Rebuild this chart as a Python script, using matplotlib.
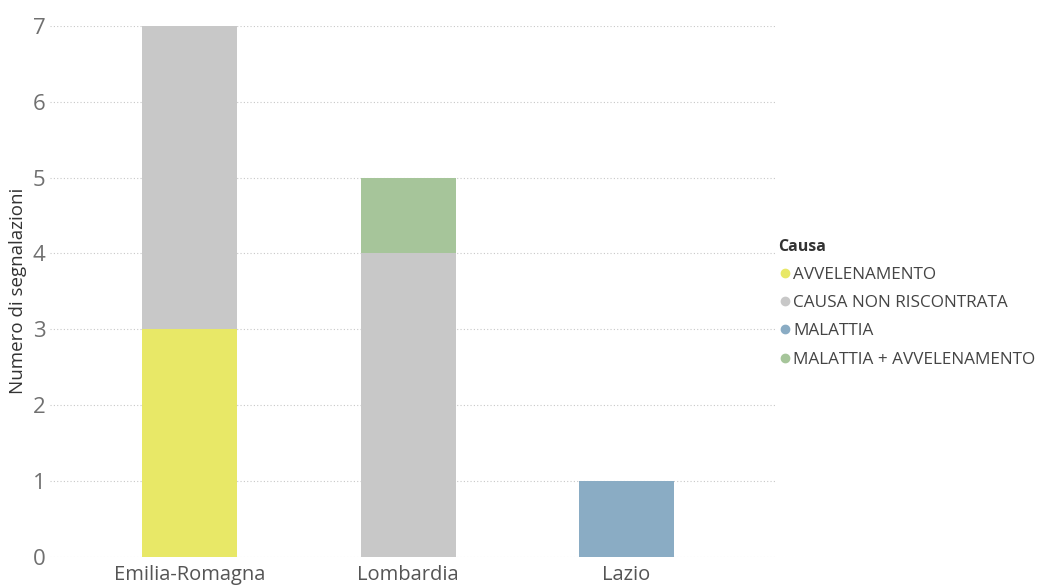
import matplotlib.pyplot as plt
import numpy as np
from matplotlib.lines import Line2D

regioni = ['Emilia-Romagna', 'Lombardia', 'Lazio']
cause = ['AVVELENAMENTO', 'CAUSA NON RISCONTRATA', 'MALATTIA',
         'MALATTIA + AVVELENAMENTO']
avvelenamento = [3, 0, 0]
non_riscontrata = [4, 4, 0]
malattia = [0, 0, 1]
malattia_avvelenamento = [0, 1, 0]
colori = ['#E8E867', '#C8C8C8', '#8AACC4', '#A6C59A']

plt.rcParams['font.family'] = ['Open Sans', 'DejaVu Sans']

fig = plt.figure(figsize=(10.39, 5.88), dpi=100)
ax = fig.add_axes([0.048, 0.053, 0.698, 0.903])

x = np.arange(len(regioni))
bottom = np.zeros(len(regioni))
for serie, col in zip([avvelenamento, non_riscontrata, malattia,
                       malattia_avvelenamento], colori):
    ax.bar(x, serie, width=0.435, bottom=bottom, color=col, zorder=2)
    bottom += np.array(serie)

ax.set_xlim(-0.64, 2.68)
ax.set_ylim(0, 7)
ax.set_yticks(range(8))
ax.set_xticks(x)
ax.set_xticklabels(regioni)
ax.yaxis.grid(True, linestyle=(0, (1, 2)), color='#C8C8C8', linewidth=0.8,
              zorder=0)
for s in ax.spines.values():
    s.set_visible(False)
ax.tick_params(axis='y', length=0, labelsize=16, labelcolor='#707070', pad=3)
ax.tick_params(axis='x', length=0, labelsize=14.5, labelcolor='#555555',
               pad=6)
ax.set_ylabel('Numero di segnalazioni', fontsize=13.5, color='#333333',
              labelpad=4)

handles = [Line2D([], [], marker='o', linestyle='', markersize=6,
                  markerfacecolor=c, markeredgecolor=c) for c in colori]
leg = fig.legend(handles, cause, title='Causa', loc='upper left',
                 bbox_to_anchor=(0.742, 0.606), frameon=False, fontsize=12.3,
                 handletextpad=0.0, labelspacing=0.72, borderaxespad=0,
                 handlelength=0.9, alignment='left')
leg.get_title().set_fontweight('bold')
leg.get_title().set_fontsize(11.5)
leg.get_title().set_color('#333333')
for t in leg.get_texts():
    t.set_color('#444444')

fig.savefig('out.png', dpi=100)
